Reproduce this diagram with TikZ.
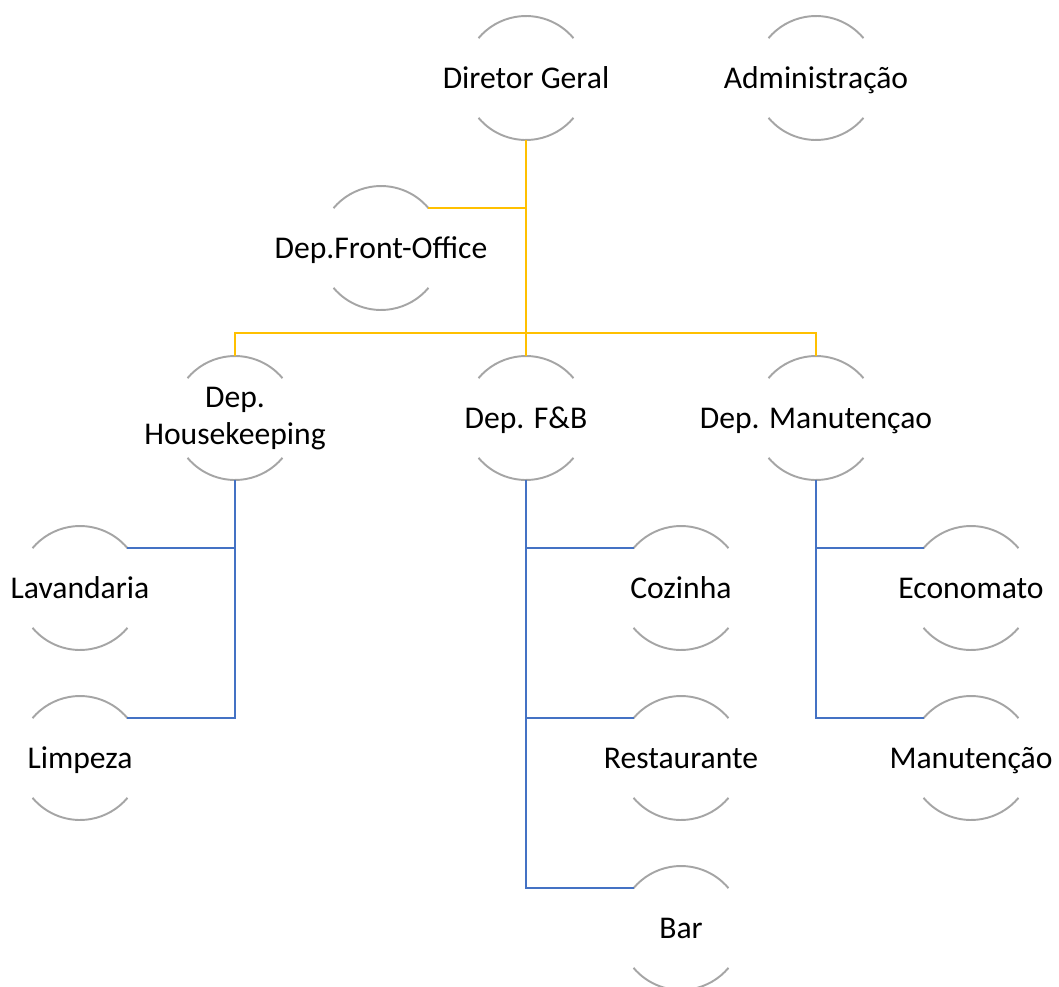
\documentclass[tikz,border=0pt]{standalone}
\usepackage{fontspec}
\setmainfont{Carlito}
\usetikzlibrary{positioning}
\definecolor{arco}{HTML}{A5A5A5}
\definecolor{amarelo}{HTML}{FFC000}
\definecolor{azul}{HTML}{4472C4}

\begin{document}
\begin{tikzpicture}[x=0.02cm, y=-0.02cm,
    setor/.style={circle, minimum size=2.48cm, inner sep=0pt, outer sep=0pt},
    rotulo/.style={align=center, font=\fontsize{18}{21}\selectfont, yshift=-0.07cm,
        execute at begin node=\strut, execute at end node=\strut},
    ramoamarelo/.style={draw=amarelo, line width=1.5pt},
    ramoazul/.style={draw=azul, line width=1.2pt}
    ]
    \useasboundingbox (0,0) rectangle (1059,987);

    % topo
    \node [setor, label={[rotulo]center:Diretor Geral}] (diretor) at (526,78) {};
    \node [setor, label={[rotulo]center:Administração}] (administracao) at (816,78) {};
    \node [setor, label={[rotulo]center:Dep.Front-Office}] (frontoffice) at (381,248) {};

    % departamentos
    \node [setor, label={[rotulo]center:Dep.\\Housekeeping}] (housekeeping) at (235,418) {};
    \node [setor, label={[rotulo]center:Dep. F\&B}] (fb) at (526,418) {};
    \node [setor, label={[rotulo]center:Dep. Manutençao}] (manutencao) at (816,418) {};

    % servicos
    \node [setor, label={[rotulo]center:Lavandaria}] (lavandaria) at (80,588) {};
    \node [setor, label={[rotulo]center:Limpeza}] (limpeza) at (80,758) {};
    \node [setor, label={[rotulo]center:Cozinha}] (cozinha) at (681,588) {};
    \node [setor, label={[rotulo]center:Restaurante}] (restaurante) at (681,758) {};
    \node [setor, label={[rotulo]center:Bar}] (bar) at (681,928) {};
    \node [setor, label={[rotulo]center:Economato}] (economato) at (971,588) {};
    \node [setor, label={[rotulo]center:Manutenção}] (manutencao2) at (971,758) {};

    % arcos de cada setor
    \foreach \n in {diretor, administracao, frontoffice, housekeeping, fb,
        manutencao, lavandaria, limpeza, cozinha, restaurante, bar,
        economato, manutencao2} {
        \draw [arco, line width=1.1pt]
            (\n.40) arc [start angle=40, end angle=140, radius=1.24cm];
        \draw [arco, line width=1.1pt]
            (\n.220) arc [start angle=220, end angle=320, radius=1.24cm];
    }

    % ligacoes amarelas
    \coordinate (ramo) at ([yshift=0.46cm]fb.north);
    \draw [ramoamarelo] (diretor.south) -- (fb.north);
    \draw [ramoamarelo] (housekeeping.north) |- (ramo) -| (manutencao.north);
    \draw [ramoamarelo] (frontoffice.40) -- (frontoffice.40 -| diretor.south);

    % ligacoes azuis
    \draw [ramoazul] (housekeeping.south) |- (limpeza.40);
    \draw [ramoazul] (lavandaria.40) -- (lavandaria.40 -| housekeeping.south);
    \draw [ramoazul] (fb.south) |- (bar.140);
    \draw [ramoazul] (cozinha.140) -- (cozinha.140 -| fb.south);
    \draw [ramoazul] (restaurante.140) -- (restaurante.140 -| fb.south);
    \draw [ramoazul] (manutencao.south) |- (manutencao2.140);
    \draw [ramoazul] (economato.140) -- (economato.140 -| manutencao.south);
\end{tikzpicture}
\end{document}
